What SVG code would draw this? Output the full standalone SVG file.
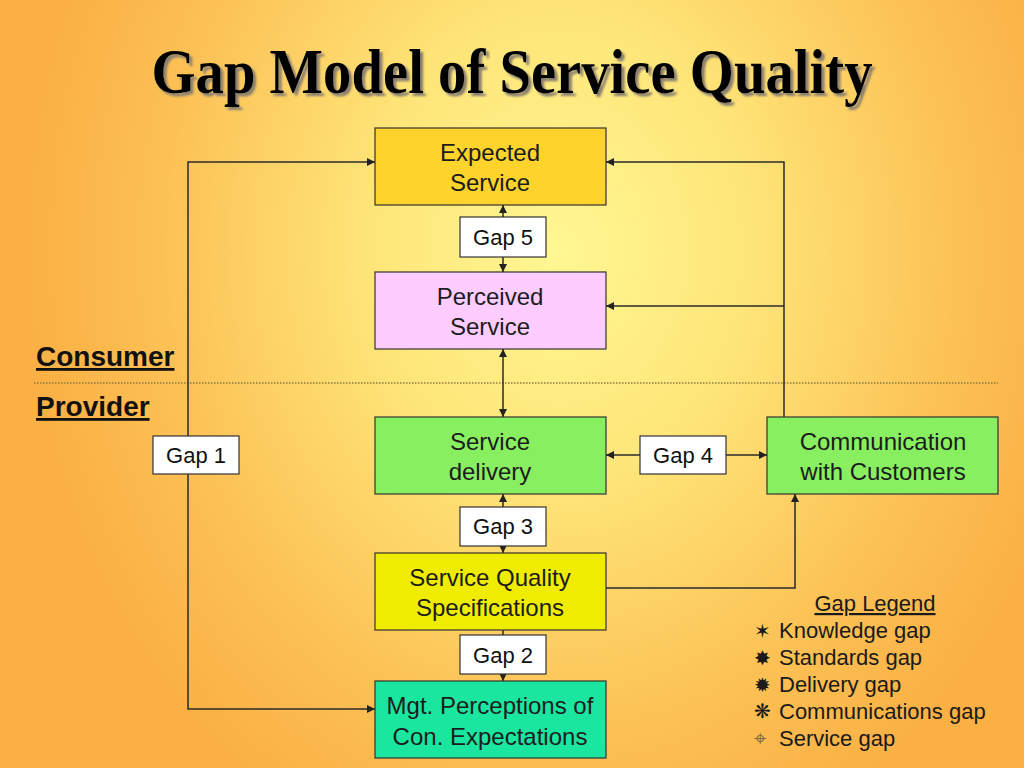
<svg xmlns="http://www.w3.org/2000/svg" width="1024" height="768" viewBox="0 0 1024 768">
<defs>
<radialGradient id="bg" gradientUnits="userSpaceOnUse" cx="560" cy="250" r="560" gradientTransform="translate(560 250) scale(0.95 1.15) translate(-560 -250)">
<stop offset="0" stop-color="#FFF793"/>
<stop offset="0.35" stop-color="#FEE679"/>
<stop offset="0.75" stop-color="#FCC155"/>
<stop offset="1" stop-color="#FAB044"/>
</radialGradient>
<filter id="shadow" x="-5%" y="-20%" width="110%" height="150%">
<feDropShadow dx="3" dy="3" stdDeviation="0.8" flood-color="#8a8070" flood-opacity="1"/>
</filter>
<marker id="ah" viewBox="0 0 10 10" refX="10" refY="5" markerWidth="9" markerHeight="8" markerUnits="userSpaceOnUse" orient="auto-start-reverse">
<path d="M0,0 L10,5 L0,10 z" fill="#222"/>
</marker>
</defs>
<style>
.box{stroke:#333;stroke-width:1.2}
.gap{fill:#fff;stroke:#333;stroke-width:1.2}
.t{font-family:"Liberation Sans",Arial,sans-serif;font-size:24px;fill:#1c1c1c;text-anchor:middle}
.g{font-family:"Liberation Sans",Arial,sans-serif;font-size:22px;fill:#111;text-anchor:middle}
.side{font-family:"Liberation Sans",Arial,sans-serif;font-size:28px;font-weight:bold;fill:#111;text-decoration:underline}
.leg{font-family:"Liberation Sans",Arial,sans-serif;font-size:22px;fill:#1a1a1a}
.sym{font-family:"DejaVu Sans",sans-serif;font-size:20px;fill:#1a1a1a}
.c{fill:none;stroke:#2a2a2a;stroke-width:1.5}
</style>
<rect width="1024" height="768" fill="url(#bg)"/>

<g id="title">
<text x="512" y="93" font-family="'Liberation Serif','Times New Roman',serif" font-weight="bold" font-size="64" fill="#050505" text-anchor="middle" textLength="721" lengthAdjust="spacingAndGlyphs" filter="url(#shadow)">Gap Model of Service Quality</text>
</g>

<g id="divider">
<line x1="34" y1="383" x2="998" y2="383" stroke="#8a7a40" stroke-width="1.5" stroke-dasharray="1.5 1.5"/>
<text class="side" x="36" y="366">Consumer</text>
<text class="side" x="36" y="416">Provider</text>
</g>

<g id="connectors">
<polyline class="c" points="375,162 188,162 188,709 375,709" marker-start="url(#ah)" marker-end="url(#ah)"/>
<polyline class="c" points="606,162 784,162 784,417" marker-start="url(#ah)"/>
<line class="c" x1="784" y1="306" x2="606" y2="306" marker-end="url(#ah)"/>
<line class="c" x1="503" y1="217" x2="503" y2="205" marker-end="url(#ah)"/>
<line class="c" x1="503" y1="257" x2="503" y2="272" marker-end="url(#ah)"/>
<line class="c" x1="503" y1="349" x2="503" y2="417" marker-start="url(#ah)" marker-end="url(#ah)"/>
<line class="c" x1="640" y1="455" x2="606" y2="455" marker-end="url(#ah)"/>
<line class="c" x1="726" y1="455" x2="767" y2="455" marker-end="url(#ah)"/>
<line class="c" x1="503" y1="507" x2="503" y2="494" marker-end="url(#ah)"/>
<line class="c" x1="503" y1="546" x2="503" y2="553" marker-end="url(#ah)"/>
<line class="c" x1="503" y1="630" x2="503" y2="635"/>
<line class="c" x1="503" y1="674" x2="503" y2="681" marker-end="url(#ah)"/>
<polyline class="c" points="606,588 795,588 795,494" marker-end="url(#ah)"/>
</g>

<g id="expected">
<rect class="box" x="375" y="128" width="231" height="77" fill="#FDD32C"/>
<text class="t" x="490" y="161">Expected</text>
<text class="t" x="490" y="191">Service</text>
</g>
<g id="gap5">
<rect class="gap" x="460" y="217" width="86" height="40"/>
<text class="g" x="503" y="245">Gap 5</text>
</g>
<g id="perceived">
<rect class="box" x="375" y="272" width="231" height="77" fill="#FFCCFF"/>
<text class="t" x="490" y="305">Perceived</text>
<text class="t" x="490" y="335">Service</text>
</g>
<g id="gap1">
<rect class="gap" x="153" y="436" width="86" height="38"/>
<text class="g" x="196" y="463">Gap 1</text>
</g>
<g id="delivery">
<rect class="box" x="375" y="417" width="231" height="77" fill="#88F060"/>
<text class="t" x="490" y="450">Service</text>
<text class="t" x="490" y="480">delivery</text>
</g>
<g id="gap4">
<rect class="gap" x="640" y="436" width="86" height="38"/>
<text class="g" x="683" y="463">Gap 4</text>
</g>
<g id="communication">
<rect class="box" x="767" y="417" width="231" height="77" fill="#88F060"/>
<text class="t" x="883" y="450">Communication</text>
<text class="t" x="883" y="480">with Customers</text>
</g>
<g id="gap3">
<rect class="gap" x="460" y="507" width="86" height="39"/>
<text class="g" x="503" y="534">Gap 3</text>
</g>
<g id="specifications">
<rect class="box" x="375" y="553" width="231" height="77" fill="#F0EC00"/>
<text class="t" x="490" y="586">Service Quality</text>
<text class="t" x="490" y="616">Specifications</text>
</g>
<g id="gap2">
<rect class="gap" x="460" y="635" width="86" height="39"/>
<text class="g" x="503" y="663">Gap 2</text>
</g>
<g id="mgt">
<rect class="box" x="375" y="681" width="231" height="77" fill="#1AE6A0"/>
<text class="t" x="490" y="714">Mgt. Perceptions of</text>
<text class="t" x="490" y="745">Con. Expectations</text>
</g>

<g id="legend">
<text class="leg" x="875" y="611" text-anchor="middle" text-decoration="underline">Gap Legend</text>
<text class="sym" x="754" y="638">✶</text><text class="leg" x="779" y="638">Knowledge gap</text>
<text class="sym" x="754" y="665">✸</text><text class="leg" x="779" y="665">Standards gap</text>
<text class="sym" x="754" y="692">✹</text><text class="leg" x="779" y="692">Delivery gap</text>
<text class="sym" x="754" y="718" fill="#5a4a20">❋</text><text class="leg" x="779" y="719">Communications gap</text>
<text x="754" y="746" font-family="'DejaVu Sans',sans-serif" font-size="22" fill="#7a6a40">⌖</text><text class="leg" x="779" y="746">Service gap</text>
</g>
</svg>
